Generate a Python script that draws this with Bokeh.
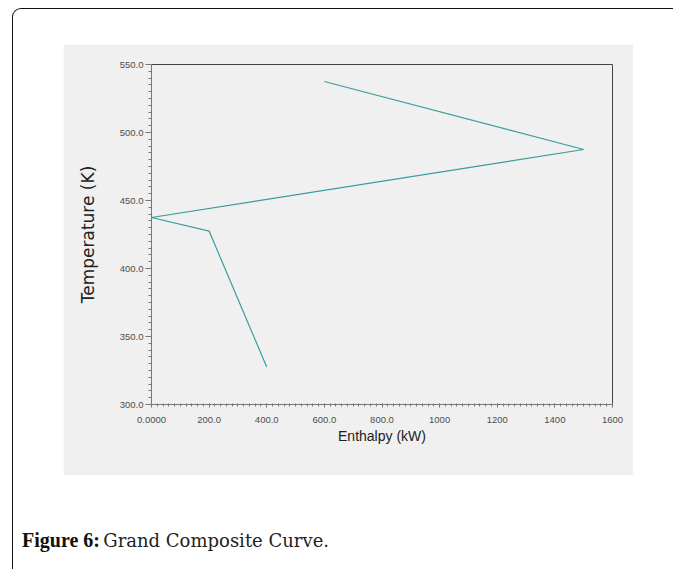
from bokeh.plotting import figure
from bokeh.models import Range1d, FixedTicker, ColumnDataSource, Div
from bokeh.layouts import column
from bokeh.embed import file_html
from bokeh.resources import INLINE

# ---- data ----
enthalpy_kw = [600.0, 1500.0, 0.0, 200.0, 400.0]
temperature_k = [537.5, 487.5, 437.5, 427.5, 327.5]

x_ticks = [0, 200, 400, 600, 800, 1000, 1200, 1400, 1600]
x_tick_labels = ["0.0000", "200.0", "400.0", "600.0", "800.0", "1000", "1200", "1400", "1600"]
y_ticks = [300, 350, 400, 450, 500, 550]
y_tick_labels = ["300.0", "350.0", "400.0", "450.0", "500.0", "550.0"]
x_minor_ticks = list(range(0, 1601, 20))
y_minor_ticks = list(range(300, 551, 5))

x_title = "Enthalpy (kW)"
y_title = "Temperature (K)"
caption_bold = "Figure 6:"
caption_text = "Grand Composite Curve."

SANS = "Liberation Sans"
PANEL = "#f0f0f0"

p = figure(width=570, height=431,
           x_range=Range1d(0, 1600), y_range=Range1d(300, 550),
           output_backend="svg", toolbar_location=None,
           min_border_left=88, min_border_right=21,
           min_border_top=20, min_border_bottom=71,
           background_fill_color=PANEL, border_fill_color=PANEL,
           outline_line_color="#444444", outline_line_width=1,
           margin=(35, 40, 0, 50))
p.grid.visible = False

src = ColumnDataSource(data=dict(h=enthalpy_kw, t=temperature_k))
p.line("h", "t", source=src, line_color="#3a9c9c", line_width=1.2)

xa = p.xaxis[0]
xa.ticker = FixedTicker(ticks=x_ticks, minor_ticks=x_minor_ticks)
xa.major_label_overrides = {t: s for t, s in zip(x_ticks, x_tick_labels)}
xa.axis_label = x_title
xa.axis_line_color = "#777777"
xa.major_tick_line_color = "#777777"
xa.minor_tick_line_color = "#777777"
xa.major_tick_in = 1
xa.major_tick_out = 3
xa.minor_tick_in = 1
xa.minor_tick_out = 2
xa.major_label_standoff = 9
xa.major_label_text_font = SANS
xa.major_label_text_font_size = "9.5px"
xa.major_label_text_color = "#4d4d4d"
xa.axis_label_text_font = SANS
xa.axis_label_text_font_size = "14px"
xa.axis_label_text_font_style = "normal"
xa.axis_label_text_color = "#222222"
xa.axis_label_standoff = 2

ya = p.yaxis[0]
ya.ticker = FixedTicker(ticks=y_ticks, minor_ticks=y_minor_ticks)
ya.major_label_overrides = {t: s for t, s in zip(y_ticks, y_tick_labels)}
ya.axis_label = y_title
ya.axis_line_color = "#777777"
ya.major_tick_line_color = "#777777"
ya.minor_tick_line_color = "#777777"
ya.major_tick_in = 0
ya.major_tick_out = 6
ya.minor_tick_in = 0
ya.minor_tick_out = 3
ya.major_label_standoff = 2
ya.major_label_text_font = SANS
ya.major_label_text_font_size = "9.5px"
ya.major_label_text_color = "#4d4d4d"
ya.axis_label_text_font = "DejaVu Sans"
ya.axis_label_text_font_size = "17px"
ya.axis_label_text_font_style = "normal"
ya.axis_label_text_color = "#222222"
ya.axis_label_standoff = 19

caption_html = (
    '<span style="font-family: \'Liberation Serif\'; font-weight: bold; '
    'font-size: 20px; color: #111;">' + caption_bold + '</span> '
    '<span style="font-family: \'DejaVu Serif\'; font-size: 18px; color: #222;">'
    + caption_text + '</span>'
)
cap = Div(text=caption_html, width=420, height=30, margin=(51, 0, 13, 9))

root = column(p, cap, margin=(8, 0, 0, 12),
              styles={"border-left": "1.5px solid #111111",
                      "border-top": "1.5px solid #111111",
                      "border-top-left-radius": "9px"})

open("out.html", "w").write(file_html(root, INLINE))
